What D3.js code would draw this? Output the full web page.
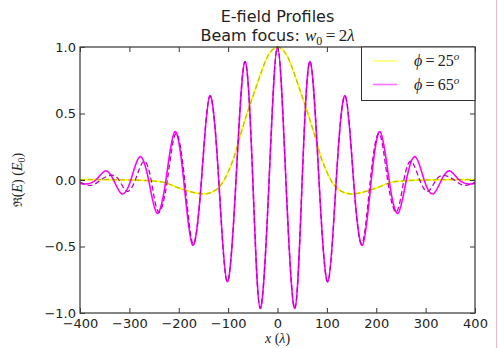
<!DOCTYPE html>
<html>
<head>
<meta charset="utf-8">
<script src="https://cdn.jsdelivr.net/npm/d3@7"></script>
<style>
  html, body { margin: 0; padding: 0; background: #fff; }
  svg { display: block; }
</style>
</head>
<body>
<svg id="chart" width="498" height="348"></svg>
<script>
// Axis ticks
const xTicks = [-400, -300, -200, -100, 0, 100, 200, 300, 400];
const yTicks = [-1.0, -0.5, 0.0, 0.5, 1.0];

// Legend entries (angle in degrees)
const legendAngles = ["25", "65"];

// phi = 25 deg : full field (solid) and paraxial approximation (dashed)
const phi25X = [-400, -350, -300, -260, -228, -200, -175, -150, -125, -108, -100, -90, -75, -59, -45, -32, -20, -10, 0,
                 10, 20, 32, 45, 59, 75, 90, 100, 108, 125, 150, 175, 200, 228, 260, 300, 350, 400];
const phi25Y = [0.003, 0.003, 0.0, -0.005, -0.02, -0.06, -0.09, -0.105, -0.075, 0.0, 0.06, 0.15, 0.34, 0.53, 0.68, 0.82, 0.93, 0.98, 1.0,
                0.98, 0.93, 0.82, 0.68, 0.53, 0.34, 0.15, 0.06, 0.0, -0.075, -0.105, -0.09, -0.06, -0.02, -0.005, 0.0, 0.003, 0.003];
const phi25ParaxY = [0.003, 0.003, 0.0, -0.005, -0.02, -0.06, -0.09, -0.105, -0.075, 0.0, 0.06, 0.15, 0.34, 0.53, 0.68, 0.82, 0.93, 0.98, 1.0,
                     0.98, 0.93, 0.82, 0.68, 0.53, 0.34, 0.15, 0.06, 0.0, -0.075, -0.105, -0.09, -0.06, -0.02, -0.005, 0.0, 0.003, 0.003];

// phi = 65 deg : full field (extrema and zero crossings)
const phi65X = [-400, -388, -368, -349, -332, -315, -297, -279, -261, -244, -226, -208, -190, -172, -154, -137, -119, -102, -84, -66, -50, -35, -17, 0,
                17, 35, 50, 66, 84, 102, 119, 137, 154, 172, 190, 208, 226, 244, 261, 279, 297, 315, 332, 349, 368, 388, 400];
const phi65Y = [-0.025, -0.03, 0.0, 0.068, 0.0, -0.105, 0.0, 0.175, 0.0, -0.25, 0.0, 0.363, 0.0, -0.49, 0.0, 0.634, 0.0, -0.764, 0.0, 0.89, 0.0, -0.965, 0.0, 1.0,
                0.0, -0.965, 0.0, 0.89, 0.0, -0.764, 0.0, 0.634, 0.0, -0.49, 0.0, 0.363, 0.0, -0.25, 0.0, 0.175, 0.0, -0.105, 0.0, 0.068, 0.0, -0.03, -0.025];

// phi = 65 deg : paraxial approximation
const phi65ParaxX = [-400, -378, -358, -338, -321, -305, -288, -271, -256, -241, -223, -206, -188, -171, -154, -137, -119, -102, -84, -66, -50, -35, -17, 0,
                     17, 35, 50, 66, 84, 102, 119, 137, 154, 171, 188, 206, 223, 241, 256, 271, 288, 305, 321, 338, 358, 378, 400];
const phi65ParaxY = [-0.015, -0.04, 0.0, 0.035, 0.0, -0.085, 0.0, 0.14, 0.0, -0.24, 0.0, 0.35, 0.0, -0.48, 0.0, 0.63, 0.0, -0.764, 0.0, 0.89, 0.0, -0.965, 0.0, 1.0,
                     0.0, -0.965, 0.0, 0.89, 0.0, -0.764, 0.0, 0.63, 0.0, -0.48, 0.0, 0.35, 0.0, -0.24, 0.0, 0.14, 0.0, -0.085, 0.0, 0.035, 0.0, -0.04, -0.015];

const svg = d3.select("#chart");
const W = 498, H = 348;
const plot = { left: 80, right: 475, top: 47, bottom: 313 };

const x = d3.scaleLinear().domain([-400, 400]).range([plot.left, plot.right]);
const y = d3.scaleLinear().domain([-1, 1]).range([plot.bottom, plot.top]);

const sansFont = "DejaVu Sans, sans-serif";
const mathFont = "Liberation Serif, DejaVu Serif, serif";

// Thin pink figure edge on the right
svg.append("line")
  .attr("x1", 496.5).attr("x2", 496.5).attr("y1", 0).attr("y2", H)
  .attr("stroke", "#f2b8c8").attr("stroke-width", 1);

// Clip curves to the axes box
svg.append("defs").append("clipPath").attr("id", "plotClip")
  .append("rect")
  .attr("x", plot.left).attr("y", plot.top - 1)
  .attr("width", plot.right - plot.left).attr("height", plot.bottom - plot.top + 2);

const curves = svg.append("g").attr("clip-path", "url(#plotClip)");

function zipPts(xs, ys) { return xs.map((v, i) => [v, ys[i]]); }

const smoothLine = d3.line().x(d => x(d[0])).y(d => y(d[1])).curve(d3.curveMonotoneX);
const waveLine = d3.line().x(d => x(d[0])).y(d => y(d[1])).curve(d3.curveNatural);

const series = [
  { pts: zipPts(phi25X, phi25Y), gen: smoothLine, color: "#ffff00", width: 1.6, dash: null },
  { pts: zipPts(phi25X, phi25ParaxY), gen: smoothLine, color: "#bfbf00", width: 1.3, dash: "5,3" },
  { pts: zipPts(phi65X, phi65Y), gen: waveLine, color: "#ff00ff", width: 1.6, dash: null },
  { pts: zipPts(phi65ParaxX, phi65ParaxY), gen: waveLine, color: "#bf00bf", width: 1.3, dash: "5,3" }
];

series.forEach(s => {
  curves.append("path")
    .attr("d", s.gen(s.pts))
    .attr("fill", "none")
    .attr("stroke", s.color)
    .attr("stroke-width", s.width)
    .attr("stroke-dasharray", s.dash)
    .attr("stroke-linejoin", "round");
});

// Axes: ticks point inward on all four sides
const tickSize = 5;
const fmtX = d3.format("d");
const fmtY = d3.format(".1f");

const gBottom = svg.append("g").attr("transform", `translate(0,${plot.bottom})`)
  .call(d3.axisBottom(x).tickValues(xTicks).tickSize(-tickSize).tickPadding(6).tickFormat(fmtX));
const gLeft = svg.append("g").attr("transform", `translate(${plot.left},0)`)
  .call(d3.axisLeft(y).tickValues(yTicks).tickSize(-tickSize).tickPadding(4).tickFormat(fmtY));
const gTop = svg.append("g").attr("transform", `translate(0,${plot.top})`)
  .call(d3.axisTop(x).tickValues(xTicks).tickSize(-tickSize).tickFormat(() => ""));
const gRight = svg.append("g").attr("transform", `translate(${plot.right},0)`)
  .call(d3.axisRight(y).tickValues(yTicks).tickSize(-tickSize).tickFormat(() => ""));

[gBottom, gLeft, gTop, gRight].forEach(g => {
  g.select(".domain").remove();
  g.selectAll(".tick line").attr("stroke", "#333").attr("stroke-width", 1);
  g.selectAll(".tick text")
    .attr("font-family", sansFont)
    .attr("font-size", 13)
    .attr("fill", "#222");
});

// Axes frame
svg.append("rect")
  .attr("x", plot.left).attr("y", plot.top)
  .attr("width", plot.right - plot.left).attr("height", plot.bottom - plot.top)
  .attr("fill", "none").attr("stroke", "#444").attr("stroke-width", 1.3);

// Title
const title = svg.append("text")
  .attr("x", (plot.left + plot.right) / 2).attr("y", 22)
  .attr("text-anchor", "middle")
  .attr("font-family", sansFont).attr("font-size", 16).attr("fill", "#222")
  .text("E-field Profiles");

const sub = svg.append("text")
  .attr("x", (plot.left + plot.right) / 2).attr("y", 41)
  .attr("text-anchor", "middle")
  .attr("font-family", sansFont).attr("font-size", 16).attr("fill", "#222");
sub.append("tspan").text("Beam focus: ");
sub.append("tspan").attr("font-family", mathFont).attr("font-style", "italic").attr("font-size", 17).text("w");
sub.append("tspan").attr("font-family", mathFont).attr("font-size", 12).attr("dy", 4).text("0");
sub.append("tspan").attr("font-family", mathFont).attr("font-size", 17).attr("dy", -4).text("\u2009=\u20092");
sub.append("tspan").attr("font-family", mathFont).attr("font-style", "italic").attr("font-size", 17).text("λ");

// x-axis label
const xl = svg.append("text")
  .attr("x", (plot.left + plot.right) / 2).attr("y", 343)
  .attr("text-anchor", "middle")
  .attr("font-family", mathFont).attr("font-size", 14).attr("fill", "#222");
xl.append("tspan").attr("font-style", "italic").text("x");
xl.append("tspan").text(" (");
xl.append("tspan").attr("font-style", "italic").text("λ");
xl.append("tspan").text(")");

// y-axis label
const yl = svg.append("text")
  .attr("transform", `translate(22,${(plot.top + plot.bottom) / 2}) rotate(-90)`)
  .attr("text-anchor", "middle")
  .attr("font-family", mathFont).attr("font-size", 14).attr("fill", "#222");
yl.append("tspan").attr("font-family", "DejaVu Serif, serif").attr("font-size", 12).text("ℜ");
yl.append("tspan").text("(");
yl.append("tspan").attr("font-style", "italic").text("E");
yl.append("tspan").text(") (");
yl.append("tspan").attr("font-style", "italic").text("E");
yl.append("tspan").attr("font-size", 10).attr("dy", 3).text("0");
yl.append("tspan").attr("dy", -3).text(")");

// Legend
const legendBox = { x0: 361.5, y0: plot.top, x1: plot.right, y1: 100.5 };
const legend = svg.append("g");
legend.append("rect")
  .attr("x", legendBox.x0).attr("y", legendBox.y0)
  .attr("width", legendBox.x1 - legendBox.x0).attr("height", legendBox.y1 - legendBox.y0)
  .attr("fill", "#fff").attr("stroke", "#333").attr("stroke-width", 1);

const legendColors = ["#ffff00", "#ff00ff"];
legendAngles.forEach((ang, i) => {
  const ly = 61 + i * 23.5;
  legend.append("line")
    .attr("x1", 373).attr("x2", 397).attr("y1", ly).attr("y2", ly)
    .attr("stroke", legendColors[i]).attr("stroke-width", 1.6).attr("stroke-opacity", 0.55);
  const t = legend.append("text")
    .attr("x", 414).attr("y", ly + 5)
    .attr("font-family", mathFont).attr("font-size", 16).attr("fill", "#222");
  t.append("tspan").attr("font-style", "italic").text("\u03D5");
  t.append("tspan").text("\u2009=\u2009" + ang);
  t.append("tspan").attr("font-style", "italic").attr("font-size", 11).attr("dy", -6).text("o");
});
</script>
</body>
</html>
